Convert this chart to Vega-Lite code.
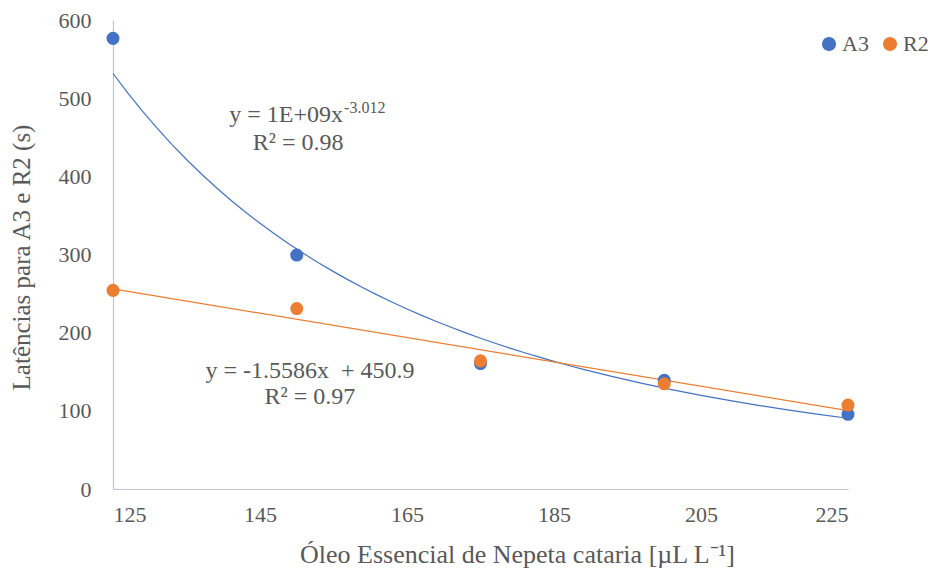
{
  "$schema": "https://vega.github.io/schema/vega-lite/v6.json",
  "width": 735,
  "height": 469,
  "autosize": "none",
  "padding": {"left": 113, "top": 20, "right": 82, "bottom": 85},
  "background": "white",
  "config": {
    "view": {"stroke": null},
    "font": "Liberation Serif",
    "text": {"font": "Liberation Serif", "fontWeight": "normal", "color": "#595959", "invalid": null},
    "axis": {
      "grid": false,
      "ticks": false,
      "domainColor": "#BCC6D6",
      "domainWidth": 1.2,
      "labelFont": "Liberation Serif",
      "labelFontSize": 22,
      "labelColor": "#595959",
      "titleFont": "Liberation Serif",
      "titleFontSize": 26,
      "titleFontWeight": "normal",
      "titleColor": "#595959"
    },
    "legend": {
      "orient": "none",
      "legendX": 705,
      "legendY": 13,
      "direction": "horizontal",
      "title": null,
      "labelFont": "Liberation Serif",
      "labelFontSize": 22,
      "labelColor": "#595959",
      "symbolType": "circle",
      "symbolSize": 200,
      "symbolStrokeWidth": 0,
      "labelOffset": 2,
      "columnPadding": 10
    }
  },
  "layer": [
    {
      "data": {
        "values": [
          {"oleo": 125, "latencia": 576.5, "serie": "A3"},
          {"oleo": 150, "latencia": 299.3, "serie": "A3"},
          {"oleo": 175, "latencia": 160.5, "serie": "A3"},
          {"oleo": 200, "latencia": 139.0, "serie": "A3"},
          {"oleo": 225, "latencia": 95.5, "serie": "A3"},
          {"oleo": 125, "latencia": 254.1, "serie": "R2"},
          {"oleo": 150, "latencia": 230.8, "serie": "R2"},
          {"oleo": 175, "latencia": 163.9, "serie": "R2"},
          {"oleo": 200, "latencia": 134.6, "serie": "R2"},
          {"oleo": 225, "latencia": 107.4, "serie": "R2"}
        ]
      },
      "encoding": {
        "x": {
          "field": "oleo",
          "type": "quantitative",
          "scale": {"domain": [125, 225], "nice": false, "zero": false},
          "axis": {
            "values": [125, 145, 165, 185, 205, 225],
            "labelPadding": 15,
            "title": "Óleo Essencial de Nepeta cataria [µL L⁻¹]",
            "titleX": 404,
            "titleY": 73,
            "titleBaseline": "alphabetic"
          }
        },
        "y": {
          "field": "latencia",
          "type": "quantitative",
          "scale": {"domain": [0, 600], "nice": false},
          "axis": {
            "values": [0, 100, 200, 300, 400, 500, 600],
            "labelPadding": 22,
            "title": "Latências para A3 e R2 (s)",
            "titleFontSize": 25,
            "titleX": -92,
            "titleY": 237,
            "titleBaseline": "middle"
          }
        }
      },
      "layer": [
        {
          "transform": [
            {"filter": "datum.serie === 'A3'"},
            {"regression": "latencia", "on": "oleo", "method": "pow", "extent": [125, 225]}
          ],
          "mark": {"type": "line", "color": "#4472C4", "strokeWidth": 1.2}
        },
        {
          "transform": [
            {"filter": "datum.serie === 'R2'"},
            {"regression": "latencia", "on": "oleo", "method": "linear", "extent": [125, 225]}
          ],
          "mark": {"type": "line", "color": "#ED7D31", "strokeWidth": 1.2}
        },
        {
          "mark": {"type": "circle", "size": 170, "opacity": 1},
          "encoding": {
            "color": {
              "field": "serie",
              "type": "nominal",
              "scale": {"domain": ["A3", "R2"], "range": ["#4472C4", "#ED7D31"]}
            },
            "order": {"field": "serie"}
          }
        }
      ]
    },
    {
      "data": {"values": [{"texto": "y = 1E+09x"}]},
      "mark": {"type": "text", "align": "right", "baseline": "alphabetic", "fontSize": 24},
      "encoding": {"x": {"datum": 156.3}, "y": {"datum": 469.9}, "text": {"field": "texto"}}
    },
    {
      "data": {"values": [{"texto": "-3.012"}]},
      "mark": {"type": "text", "align": "left", "baseline": "alphabetic", "fontSize": 16, "dx": 1},
      "encoding": {"x": {"datum": 156.3}, "y": {"datum": 480.5}, "text": {"field": "texto"}}
    },
    {
      "data": {"values": [{"texto": "R² = 0.98"}]},
      "mark": {"type": "text", "align": "center", "baseline": "alphabetic", "fontSize": 24},
      "encoding": {"x": {"datum": 150.2}, "y": {"datum": 433.7}, "text": {"field": "texto"}}
    },
    {
      "data": {"values": [{"texto": "y = -1.5586x\u00a0 + 450.9"}]},
      "mark": {"type": "text", "align": "center", "baseline": "alphabetic", "fontSize": 24},
      "encoding": {"x": {"datum": 151.8}, "y": {"datum": 142}, "text": {"field": "texto"}}
    },
    {
      "data": {"values": [{"texto": "R² = 0.97"}]},
      "mark": {"type": "text", "align": "center", "baseline": "alphabetic", "fontSize": 24},
      "encoding": {"x": {"datum": 151.8}, "y": {"datum": 108.7}, "text": {"field": "texto"}}
    }
  ]
}
